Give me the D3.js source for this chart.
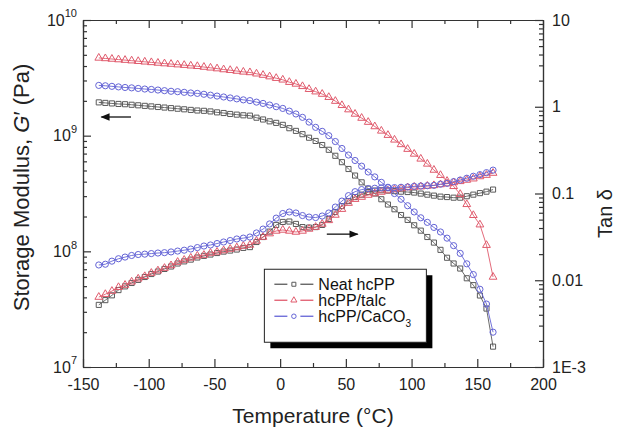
<!DOCTYPE html>
<html>
<head>
<meta charset="utf-8">
<script src="https://cdn.jsdelivr.net/npm/d3@7"></script>
<style>
  body { margin: 0; background: #fff; }
  svg { font-family: Arial, "Liberation Sans", sans-serif; }
</style>
</head>
<body>
<div id="chart"></div>
<script>
// temperature of each measurement (°C)
const temps = [-138,-133,-128,-123,-118,-113,-108,-103,-98,-93,-88,-83,-78,-73,-68,-63,-58,-53,-48,-43,
  -38,-33,-28,-23,-18,-13,-8,-3,2,7,12,17,22,27,32,37,42,47,52,57,62,67,72,77,82,87,92,97,102,107,
  112,117,122,127,132,137,142,147,152,157,162]

// storage modulus G' (Pa)
const gNeat = [1.94e9,1.92e9,1.9e9,1.88e9,1.87e9,1.85e9,1.83e9,1.81e9,1.79e9,1.77e9,1.75e9,1.73e9,1.71e9,1.69e9,1.67e9,1.65e9,1.64e9,1.62e9,1.59e9,1.57e9,
  1.54e9,1.52e9,1.5e9,1.49e9,1.43e9,1.38e9,1.33e9,1.29e9,1.24e9,1.16e9,1.1e9,1.03e9,9.6e8,9.0e8,8.3e8,7.55e8,6.7e8,5.9e8,5.15e8,4.52e8,
  3.95e8,3.48e8,3.16e8,2.82e8,2.54e8,2.31e8,2.06e8,1.87e8,1.68e8,1.51e8,1.33e8,1.19e8,1.03e8,8.8e7,7.85e7,7.1e7,5.85e7,5.1e7,4.15e7,3.2e7,1.5e7]
const gTalc = [4.7e9,4.65e9,4.6e9,4.55e9,4.5e9,4.45e9,4.4e9,4.35e9,4.3e9,4.25e9,4.2e9,4.16e9,4.11e9,4.07e9,4.02e9,3.98e9,3.92e9,3.86e9,3.8e9,3.73e9,
  3.68e9,3.62e9,3.56e9,3.52e9,3.43e9,3.34e9,3.24e9,3.14e9,3.04e9,2.9e9,2.8e9,2.67e9,2.52e9,2.4e9,2.29e9,2.15e9,1.99e9,1.83e9,1.68e9,1.54e9,
  1.42e9,1.31e9,1.2e9,1.1e9,1.01e9,9.2e8,8.4e8,7.65e8,6.95e8,6.3e8,5.7e8,5.05e8,4.55e8,4.05e8,3.65e8,3.12e8,2.55e8,2.05e8,1.7e8,1.13e8,6.0e7]
const gCaco = [2.72e9,2.7e9,2.67e9,2.64e9,2.61e9,2.59e9,2.56e9,2.53e9,2.51e9,2.48e9,2.45e9,2.42e9,2.4e9,2.37e9,2.34e9,2.32e9,2.28e9,2.24e9,2.2e9,2.16e9,
  2.12e9,2.08e9,2.04e9,2.01e9,1.95e9,1.9e9,1.84e9,1.78e9,1.72e9,1.63e9,1.54e9,1.44e9,1.31e9,1.18e9,1.09e9,1.0e9,8.9e8,7.75e8,6.8e8,6.1e8,
  5.45e8,4.85e8,4.4e8,3.95e8,3.58e8,3.16e8,2.82e8,2.48e8,2.19e8,1.95e8,1.78e8,1.61e8,1.47e8,1.3e8,1.12e8,9.6e7,7.8e7,6.3e7,4.7e7,3.5e7,2.0e7]

// loss factor tan delta
const tNeat = [0.0052,0.0059,0.0067,0.0077,0.0085,0.0093,0.0101,0.0109,0.0118,0.0126,0.0135,0.0144,0.0156,0.0165,0.0173,0.0183,0.0191,0.0198,0.0206,0.0214,
  0.022,0.0226,0.0236,0.0241,0.0276,0.0315,0.0364,0.0434,0.047,0.0475,0.0446,0.041,0.0405,0.041,0.0434,0.0508,0.0612,0.0716,0.0818,0.091,
  0.097,0.104,0.108,0.109,0.108,0.1065,0.105,0.104,0.1025,0.0998,0.097,0.0945,0.092,0.091,0.0895,0.0895,0.093,0.097,0.101,0.105,0.111]
const tTalc = [0.0064,0.0069,0.0075,0.0083,0.0088,0.0096,0.0104,0.0111,0.0121,0.0129,0.0138,0.0148,0.0162,0.0171,0.0181,0.0191,0.0195,0.0206,0.0212,0.022,
  0.0229,0.0238,0.0248,0.0255,0.0284,0.0315,0.0345,0.037,0.038,0.037,0.036,0.037,0.039,0.041,0.0445,0.049,0.0565,0.066,0.0775,0.086,
  0.091,0.096,0.1,0.104,0.108,0.111,0.114,0.117,0.119,0.12,0.122,0.124,0.127,0.13,0.134,0.138,0.143,0.148,0.157,0.163,0.172]
const tCaco = [0.015,0.0153,0.0166,0.0177,0.0185,0.0193,0.0198,0.02,0.0203,0.0206,0.0208,0.0212,0.0217,0.0222,0.0229,0.0238,0.0248,0.0255,0.0265,0.0276,
  0.0287,0.0299,0.0306,0.0315,0.0351,0.0389,0.0446,0.052,0.0588,0.0612,0.0596,0.0557,0.0535,0.0528,0.055,0.0596,0.0698,0.0818,0.0945,0.105,
  0.111,0.114,0.115,0.116,0.1165,0.117,0.118,0.119,0.121,0.122,0.123,0.124,0.128,0.131,0.137,0.143,0.15,0.158,0.165,0.174,0.186]

const xTicks = [-150,-100,-50,0,50,100,150,200]
const gTicks = [1e7,1e8,1e9,1e10]
const tTicks = [1e-3,1e-2,1e-1,1,10]
const tLabels = ['1E-3','0.01','0.1','1','10']

const MARGIN = {TOP: 20, BOTTOM: 64, LEFT: 83, RIGHT: 81}
const W = 624, H = 431
const WIDTH = W - MARGIN.LEFT - MARGIN.RIGHT
const HEIGHT = H - MARGIN.TOP - MARGIN.BOTTOM

const series = [
  {name: 'Neat hcPP', g: gNeat, t: tNeat, color: '#5a5a5a', sym: d3.symbolSquare, size: 26},
  {name: 'hcPP/talc', g: gTalc, t: tTalc, color: '#e05a6c', sym: d3.symbolTriangle, size: 26},
  {name: 'hcPP/CaCO', g: gCaco, t: tCaco, color: '#6464d6', sym: d3.symbolCircle, size: 30}
]

const svg = d3.select('#chart').append('svg')
  .attr('width', W).attr('height', H)
const g = svg.append('g')
  .attr('transform', `translate(${MARGIN.LEFT},${MARGIN.TOP})`)

const x = d3.scaleLinear().domain([-150, 200]).range([0, WIDTH])
const yG = d3.scaleLog().domain([1e7, 1e10]).range([HEIGHT, 0])
const yT = d3.scaleLog().domain([1e-3, 10]).range([HEIGHT, 0])

// minor tick values for the log axes
const minorOf = (lo, hi) => {
  const out = []
  for (let e = lo; e < hi; e++) for (let m = 2; m <= 9; m++) out.push(m * Math.pow(10, e))
  return out
}

const axisStyle = sel => {
  sel.selectAll('path, line').attr('stroke', '#333').attr('stroke-width', 1.2)
  sel.selectAll('text').attr('fill', '#222').attr('font-size', 16)
}

// bottom / top
const xMinor = [-125,-75,-25,25,75,125,175]
g.append('g').attr('transform', `translate(0,${HEIGHT})`)
  .call(d3.axisBottom(x).tickValues(xTicks).tickSizeInner(-8).tickSizeOuter(0).tickPadding(12).tickFormat(d => String(d)))
  .call(axisStyle)
g.append('g').attr('transform', `translate(0,${HEIGHT})`)
  .call(d3.axisBottom(x).tickValues(xMinor).tickSizeInner(-4).tickSizeOuter(0).tickFormat(''))
  .call(axisStyle)
g.append('g')
  .call(d3.axisTop(x).tickValues(xTicks).tickSizeInner(-8).tickSizeOuter(0).tickFormat(''))
  .call(axisStyle)
g.append('g')
  .call(d3.axisTop(x).tickValues(xMinor).tickSizeInner(-4).tickSizeOuter(0).tickFormat(''))
  .call(axisStyle)

// left G' axis with 10^n labels
const left = g.append('g')
  .call(d3.axisLeft(yG).tickValues(gTicks).tickSizeInner(-8).tickSizeOuter(0).tickPadding(6).tickFormat(''))
  .call(axisStyle)
left.selectAll('.tick text').each(function(d) {
  const t = d3.select(this).text('')
  t.append('tspan').text('10')
  t.append('tspan').attr('font-size', 11).attr('dy', '-0.75em').text(Math.round(Math.log10(d)))
})
g.append('g')
  .call(d3.axisLeft(yG).tickValues(minorOf(7, 10)).tickSizeInner(-4).tickSizeOuter(0).tickFormat(''))
  .call(axisStyle)

// right tan delta axis
g.append('g').attr('transform', `translate(${WIDTH},0)`)
  .call(d3.axisRight(yT).tickValues(tTicks).tickSizeInner(-8).tickSizeOuter(0).tickPadding(9)
    .tickFormat((d, i) => tLabels[i]))
  .call(axisStyle)
g.append('g').attr('transform', `translate(${WIDTH},0)`)
  .call(d3.axisRight(yT).tickValues(minorOf(-3, 1)).tickSizeInner(-4).tickSizeOuter(0).tickFormat(''))
  .call(axisStyle)

// curves
series.forEach(s => {
  const gLine = d3.line().x((d, i) => x(temps[i])).y(d => yG(d))
  const tLine = d3.line().x((d, i) => x(temps[i])).y(d => yT(d))
  const sym = d3.symbol().type(s.sym).size(s.size)
  ;[[s.g, gLine, yG], [s.t, tLine, yT]].forEach(([vals, line, y]) => {
    g.append('path').datum(vals)
      .attr('d', line).attr('fill', 'none')
      .attr('stroke', s.color).attr('stroke-width', 0.9)
    g.selectAll(null).data(vals).enter().append('path')
      .attr('d', sym)
      .attr('transform', (d, i) => `translate(${x(temps[i])},${y(d)})`)
      .attr('fill', 'none').attr('stroke', s.color).attr('stroke-width', 1)
  })
})

// arrows pointing to the axes
svg.append('defs').append('marker')
  .attr('id', 'head').attr('viewBox', '0 0 10 10').attr('refX', 9).attr('refY', 5)
  .attr('markerWidth', 7).attr('markerHeight', 7).attr('orient', 'auto')
  .append('path').attr('d', 'M0,1L10,5L0,9Z').attr('fill', '#111')
g.append('line')
  .attr('x1', x(-113.5)).attr('x2', x(-136)).attr('y1', yG(1.45e9)).attr('y2', yG(1.45e9))
  .attr('stroke', '#111').attr('stroke-width', 1.3).attr('marker-end', 'url(#head)')
g.append('line')
  .attr('x1', x(35.5)).attr('x2', x(59)).attr('y1', yT(0.034)).attr('y2', yT(0.034))
  .attr('stroke', '#111').attr('stroke-width', 1.3).attr('marker-end', 'url(#head)')

// legend with drop shadow
const lg = g.append('g').attr('transform', `translate(${x(-12)},${yG(7e7)})`)
const LW = 162, LH = 73
lg.append('rect').attr('x', 6).attr('y', 6).attr('width', LW).attr('height', LH).attr('fill', '#000')
lg.append('rect').attr('width', LW).attr('height', LH).attr('fill', '#fff')
  .attr('stroke', '#222').attr('stroke-width', 1)
series.forEach((s, i) => {
  const row = lg.append('g').attr('transform', `translate(0,${15 + i * 16})`)
  row.append('line').attr('x1', 10).attr('x2', 23).attr('stroke', s.color).attr('stroke-width', 1.3)
  row.append('line').attr('x1', 36).attr('x2', 49).attr('stroke', s.color).attr('stroke-width', 1.3)
  row.append('path').attr('d', d3.symbol().type(s.sym).size(16)).attr('transform', 'translate(29.5,0)')
    .attr('fill', 'none').attr('stroke', s.color)
  const tx = row.append('text').attr('x', 54).attr('dy', '0.36em').attr('font-size', 16).attr('fill', '#111')
    .text(s.name)
  if (i === 2) tx.append('tspan').attr('font-size', 10).attr('dy', '0.45em').text('3')
})

// axis titles
g.append('text')
  .attr('x', WIDTH / 2).attr('y', HEIGHT + 56)
  .attr('text-anchor', 'middle').attr('font-size', 21).attr('fill', '#222')
  .text('Temperature (°C)')
const yt = g.append('text')
  .attr('transform', `translate(${-54},${HEIGHT / 2 - 6}) rotate(-90)`)
  .attr('text-anchor', 'middle').attr('font-size', 22).attr('fill', '#222')
yt.append('tspan').text('Storage Modulus, ')
yt.append('tspan').attr('font-style', 'italic').text('G')
yt.append('tspan').text('′ (Pa)')
g.append('text')
  .attr('transform', `translate(${WIDTH + 69},${HEIGHT / 2 + 20}) rotate(-90)`)
  .attr('text-anchor', 'middle').attr('font-size', 20).attr('fill', '#222')
  .text('Tan δ')
</script>
</body>
</html>
